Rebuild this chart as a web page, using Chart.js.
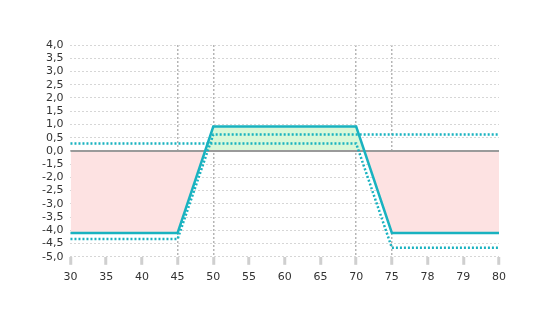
<!DOCTYPE html>
<html>
<head>
<meta charset="utf-8">
<script src="https://cdn.jsdelivr.net/npm/chart.js@4"></script>
<style>
    html, body { margin: 0; padding: 0; background: #fff; }
    #wrap { width: 550px; height: 330px; }
</style>
</head>
<body>
<div id="wrap"><canvas id="payoffChart" width="550" height="330"></canvas></div>
<script>
// Categories on the x axis (evenly spaced, as in the picture)
const xLabels = ['30', '35', '40', '45', '50', '55', '60', '65', '70', '75', '78', '79', '80'];

// Tick labels of the y axis, bottom to top (17 evenly spaced ticks)
const yTickLabels = ['-5,0', '-4,5', '-4,0', '-3,5', '-3,0', '-2,5', '-2,0', '-1,5',
    '0,0', '0,5', '1,0', '1,5', '2,0', '2,5', '3,0', '3,5', '4,0'];

// Values in axis units (one tick = 0.5)
const payoff = [-3.1, -3.1, -3.1, -3.1, 0.92, 0.92, 0.92, 0.92, 0.92, -3.1, -3.1, -3.1, -3.1];
const dottedA = [0.28, 0.28, 0.28, 0.28, 0.28, 0.28, 0.28, 0.28, 0.28, -3.66, -3.66, -3.66, -3.66];
const dottedB = [-3.33, -3.33, -3.33, -3.33, 0.62, 0.62, 0.62, 0.62, 0.62, 0.62, 0.62, 0.62, 0.62];
const zeroLine = [0, 0, 0, 0, 0, 0, 0, 0, 0, 0, 0, 0, 0];

// Categories that get a vertical dotted grid line
const markedX = ['45', '50', '70', '75'];

const teal = '#19b2c0';
const fontFamily = "'DejaVu Sans', sans-serif";

const ctx = document.getElementById('payoffChart');
new Chart(ctx, {
    type: 'line',
    data: {
        labels: xLabels,
        datasets: [
            {
                data: dottedA,
                borderColor: teal,
                borderWidth: 2.5,
                borderDash: [2, 2],
                pointRadius: 0,
                tension: 0,
                fill: false,
                order: 0
            },
            {
                data: dottedB,
                borderColor: teal,
                borderWidth: 2.5,
                borderDash: [2, 2],
                pointRadius: 0,
                tension: 0,
                fill: false,
                order: 0
            },
            {
                data: payoff,
                borderColor: teal,
                borderWidth: 2.5,
                pointRadius: 0,
                tension: 0,
                fill: {
                    target: 'origin',
                    above: '#d9f8d9',
                    below: '#fde2e2'
                },
                order: 1
            },
            {
                data: zeroLine,
                borderColor: '#9a9a9a',
                borderWidth: 2,
                pointRadius: 0,
                fill: false,
                order: 2
            }
        ]
    },
    options: {
        responsive: false,
        animation: false,
        layout: {
            padding: { top: 45, left: 35, right: 51, bottom: 40 }
        },
        plugins: {
            legend: { display: false },
            tooltip: { enabled: false },
            filler: { drawTime: 'beforeDatasetsDraw' }
        },
        scales: {
            x: {
                type: 'category',
                offset: false,
                border: { display: false, dash: [2, 2] },
                grid: {
                    color: function (c) {
                        return markedX.includes(xLabels[c.index]) ? '#b5b5b5' : 'rgba(0,0,0,0)';
                    },
                    lineWidth: 1.5,
                    drawTicks: true,
                    tickLength: 8,
                    tickWidth: 3,
                    tickColor: '#cfcfcf',
                    tickBorderDash: []
                },
                ticks: {
                    color: '#333',
                    padding: 6,
                    maxRotation: 0,
                    autoSkip: false,
                    font: { family: fontFamily, size: 11 }
                }
            },
            y: {
                min: -4,
                max: 4,
                border: { display: false, dash: [2, 2] },
                grid: {
                    color: '#d6d6d6',
                    lineWidth: 1,
                    drawTicks: false
                },
                ticks: {
                    stepSize: 0.5,
                    color: '#333',
                    padding: 7,
                    autoSkip: false,
                    font: { family: fontFamily, size: 11 },
                    callback: function (value, index) {
                        return yTickLabels[index];
                    }
                }
            }
        }
    }
});
</script>
</body>
</html>
